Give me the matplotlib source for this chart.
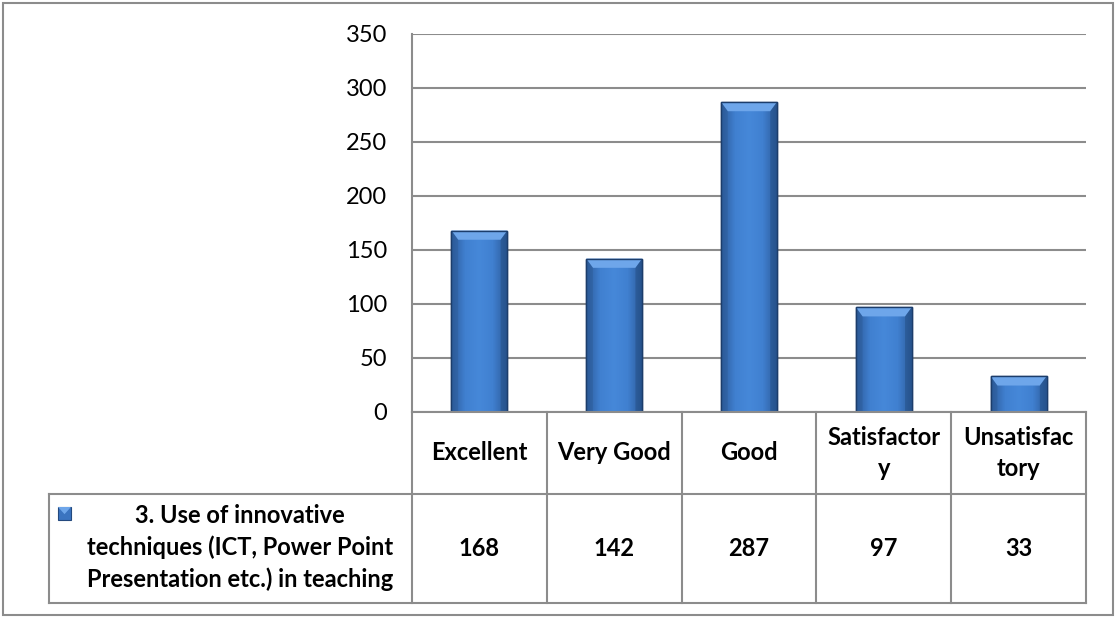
import numpy as np
import matplotlib.pyplot as plt
from matplotlib.patches import Rectangle, Polygon
from matplotlib.colors import LinearSegmentedColormap

# Data
categories = ["Excellent", "Very Good", "Good", "Satisfactor\ny", "Unsatisfac\ntory"]
values = [168, 142, 287, 97, 33]
series_name = "3. Use of innovative\ntechniques (ICT, Power Point\nPresentation etc.) in teaching"
yticks = [0, 50, 100, 150, 200, 250, 300, 350]

plt.rcParams['font.family'] = ['Lato', 'DejaVu Sans']

W, H = 1116, 617
fig = plt.figure(figsize=(W / 100, H / 100), dpi=100)

def fx(px):
    return px / W

def fy(py):
    return 1 - py / H

grid_col = "#8c8c8c"
fs = 17

# outer border
fig.add_artist(Rectangle((fx(3), fy(615)), fx(1110), (612) / H, transform=fig.transFigure,
                         fill=False, ec=grid_col, lw=1.5))

left, right, top, base = 412, 1086, 34, 412
ax = fig.add_axes([fx(left), fy(base), fx(right - left), (base - top) / H])
x = np.arange(len(values))
ax.set_yticks(yticks)
ax.set_xticks([])
ax.tick_params(axis='y', length=0, labelsize=fs, pad=18)
ax.grid(axis='y', color=grid_col, lw=1.5)
ax.set_axisbelow(True)
for s in ["top", "right", "bottom"]:
    ax.spines[s].set_visible(False)
ax.spines["left"].set_color(grid_col)
ax.spines["left"].set_linewidth(1.5)

bars = ax.bar(x, values, width=0.415, color="#3a74c2", edgecolor="#1c3d6b", lw=1, zorder=2)

cmap = LinearSegmentedColormap.from_list("bar", ["#2d5c9c", "#4080d0", "#4688d9", "#4080d0", "#2d5c9c"])
grad = np.linspace(0, 1, 64).reshape(1, -1)
for b in bars:
    x0, w, h = b.get_x(), b.get_width(), b.get_height()
    im = ax.imshow(grad, cmap=cmap, extent=[x0, x0 + w, 0, h], aspect='auto', zorder=2.5)
    im.set_clip_path(b)
    bev = 8.5
    dx = w * 0.12
    ax.add_patch(Polygon([[x0, h], [x0 + w, h], [x0 + w - dx, h - bev], [x0 + dx, h - bev]],
                         closed=True, fc="#6ea6ea", ec="none", zorder=2.6))
    ax.add_patch(Polygon([[x0, h], [x0 + dx, h - bev], [x0 + dx, 0], [x0, 0]],
                         closed=True, fc="#2a568f", ec="none", alpha=0.35, zorder=2.6))
    ax.add_patch(Polygon([[x0 + w, h], [x0 + w - dx, h - bev], [x0 + w - dx, 0], [x0 + w, 0]],
                         closed=True, fc="#1f4677", ec="none", alpha=0.4, zorder=2.6))
    ax.add_patch(Rectangle((x0, 0), w, h, fill=False, ec="#1c3d6b", lw=1, zorder=2.7))
ax.set_xlim(-0.5, len(values) - 0.5)
ax.set_ylim(0, 350)

# data table
row1, row2, row3 = 412, 494, 603
tleft = 49
col_w = (right - left) / len(values)
def hline(y, x0, x1):
    fig.add_artist(plt.Line2D([fx(x0), fx(x1)], [fy(y), fy(y)], transform=fig.transFigure,
                              color=grid_col, lw=1.5))
def vline(xp, y0, y1):
    fig.add_artist(plt.Line2D([fx(xp), fx(xp)], [fy(y0), fy(y1)], transform=fig.transFigure,
                              color=grid_col, lw=1.5))

hline(row1, left, right)
hline(row2, tleft, right)
hline(row3, tleft, right)
vline(tleft, row2, row3)
for i in range(len(values) + 1):
    vline(left + i * col_w, row1, row3)

for i, (c, v) in enumerate(zip(categories, values)):
    cx = left + (i + 0.5) * col_w
    fig.text(fx(cx), fy((row1 + row2) / 2), c, ha='center', va='center', fontsize=fs,
             fontweight='bold', linespacing=1.4)
    fig.text(fx(cx), fy((row2 + row3) / 2), str(v), ha='center', va='center', fontsize=fs,
             fontweight='bold')

fig.text(fx(240), fy((row2 + row3) / 2 - 1), series_name, ha='center', va='center', fontsize=fs,
         fontweight='bold', linespacing=1.45)

# legend key
kx, ky, ks = 58, 507, 13
fig.add_artist(Rectangle((fx(kx), fy(ky + ks)), fx(ks), ks / H, transform=fig.transFigure,
                         fc="#3b74c0", ec="#24497e", lw=0.8))
fig.add_artist(Polygon([[fx(kx), fy(ky)], [fx(kx + ks), fy(ky)], [fx(kx + ks / 2), fy(ky + ks * 0.55)]],
                       closed=True, transform=fig.transFigure, fc="#6ea6ea", ec="none"))

fig.savefig("out.png", dpi=100)
